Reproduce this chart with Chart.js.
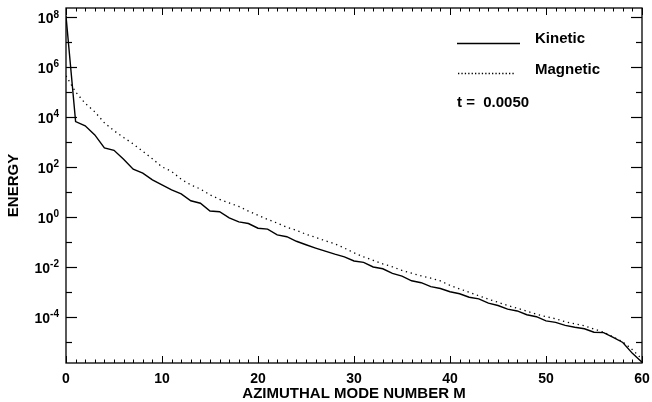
<!DOCTYPE html>
<html>
<head>
<meta charset="utf-8">
<script src="https://cdn.jsdelivr.net/npm/chart.js@4/dist/chart.umd.min.js"></script>
<style>
  html, body { margin: 0; padding: 0; background: #fff; }
  #wrap { width: 652px; height: 402px; }
</style>
</head>
<body>
<div id="wrap"><canvas id="spectrum"></canvas></div>
<script>
// azimuthal mode number M
const modes = [0, 1, 2, 3, 4, 5, 6, 7, 8, 9, 10, 11, 12, 13, 14, 15, 16, 17, 18, 19, 20,
    21, 22, 23, 24, 25, 26, 27, 28, 29, 30, 31, 32, 33, 34, 35, 36, 37, 38, 39, 40,
    41, 42, 43, 44, 45, 46, 47, 48, 49, 50, 51, 52, 53, 54, 55, 56, 57, 58, 59, 60];

// energy per mode
const kinetic = [1.1e8, 6.5e3, 4.4e3, 1.9e3, 5.8e2, 4.6e2, 2.0e2, 8.1e1, 5.6e1, 3.0e1, 1.9e1,
    1.2e1, 8.3, 4.4, 3.5, 1.7, 1.6, 9.1e-1, 6.3e-1, 5.4e-1, 3.5e-1,
    3.2e-1, 1.9e-1, 1.6e-1, 1.05e-1, 7.6e-2, 5.6e-2, 4.2e-2, 3.2e-2, 2.5e-2, 1.7e-2,
    1.5e-2, 9.8e-3, 8.3e-3, 5.4e-3, 4.2e-3, 2.75e-3, 2.3e-3, 1.6e-3, 1.35e-3, 1.0e-3,
    8.3e-4, 6.0e-4, 5.2e-4, 3.5e-4, 2.8e-4, 2.0e-4, 1.7e-4, 1.2e-4, 1.0e-4, 6.8e-5,
    5.9e-5, 4.5e-5, 3.8e-5, 3.3e-5, 2.4e-5, 2.3e-5, 1.5e-5, 9.3e-6, 3.4e-6, 1.5e-6];

const magnetic = [4.4e5, 1.0e5, 3.5e4, 1.6e4, 5.8e3, 2.8e3, 1.5e3, 8.3e2, 4.2e2, 2.1e2, 1.0e2,
    6.6e1, 3.2e1, 1.9e1, 1.3e1, 7.6, 5.0, 3.6, 2.6, 1.7, 1.15,
    7.9e-1, 5.6e-1, 3.8e-1, 2.9e-1, 2.0e-1, 1.5e-1, 1.1e-1, 8.3e-2, 5.6e-2, 3.6e-2,
    2.5e-2, 1.8e-2, 1.3e-2, 1.0e-2, 7.1e-3, 5.5e-3, 4.3e-3, 3.5e-3, 2.7e-3, 1.8e-3,
    1.3e-3, 9.5e-4, 6.9e-4, 5.0e-4, 3.8e-4, 2.8e-4, 2.2e-4, 1.66e-4, 1.26e-4, 1.0e-4,
    8.3e-5, 6.3e-5, 5.2e-5, 4.3e-5, 3.2e-5, 2.4e-5, 1.55e-5, 9.8e-6, 4.8e-6, 2.0e-6];

// tick labels
const xTickValues = [0, 10, 20, 30, 40, 50, 60];
const yTickExponents = [8, 6, 4, 2, 0, -2, -4];
const yMinorExponents = [7, 5, 3, 1, -1, -3, -5];

const FONT = 'bold {s}px "Liberation Sans", Arial, sans-serif';
const font = s => FONT.replace('{s}', s);

// axes, ticks, labels and the little legend, drawn the old IDL way
const idlFrame = {
    id: 'idlFrame',
    afterDraw(chart) {
        const ctx = chart.ctx;
        const a = chart.chartArea;
        const xs = chart.scales.x;
        const ys = chart.scales.y;

        ctx.save();
        ctx.strokeStyle = '#000';
        ctx.fillStyle = '#000';

        function seg(x1, y1, x2, y2) {
            ctx.beginPath();
            ctx.moveTo(x1, y1);
            ctx.lineTo(x2, y2);
            ctx.stroke();
        }

        ctx.lineWidth = 1.3;
        ctx.strokeRect(a.left, a.top, a.right - a.left, a.bottom - a.top);

        // x ticks, every mode, bigger every 10
        ctx.lineWidth = 1;
        for (let m = 0; m <= 60; m++) {
            const px = Math.round(xs.getPixelForValue(m)) + 0.5;
            const len = m % 10 === 0 ? 7 : 3.5;
            seg(px, a.bottom, px, a.bottom - len);
            seg(px, a.top, px, a.top + len);
        }

        // y ticks at decades
        ctx.lineWidth = 1.2;
        yTickExponents.forEach(e => {
            const py = Math.round(ys.getPixelForValue(Math.pow(10, e))) + 0.5;
            seg(a.left, py, a.left + 11, py);
            seg(a.right, py, a.right - 11, py);
        });
        yMinorExponents.forEach(e => {
            const py = Math.round(ys.getPixelForValue(Math.pow(10, e))) + 0.5;
            seg(a.left, py, a.left + 6, py);
            seg(a.right, py, a.right - 6, py);
        });

        // x tick labels
        ctx.font = font(14);
        ctx.textAlign = 'center';
        ctx.textBaseline = 'middle';
        xTickValues.forEach(v => {
            ctx.fillText(String(v), xs.getPixelForValue(v), a.bottom + 16);
        });

        // y tick labels: 10 with a raised exponent
        ctx.textAlign = 'left';
        ctx.textBaseline = 'alphabetic';
        yTickExponents.forEach(e => {
            const py = ys.getPixelForValue(Math.pow(10, e));
            const sup = String(e);
            ctx.font = font(10);
            const wSup = ctx.measureText(sup).width;
            ctx.font = font(14);
            const wBase = ctx.measureText('10').width;
            const right = a.left - 7;
            ctx.fillText('10', right - wSup - wBase, py + 6);
            ctx.font = font(10);
            ctx.fillText(sup, right - wSup, py + 0.5);
        });

        // axis titles
        ctx.font = font(15);
        ctx.textAlign = 'center';
        ctx.textBaseline = 'middle';
        ctx.fillText('AZIMUTHAL MODE NUMBER M', (a.left + a.right) / 2, a.bottom + 31);
        ctx.save();
        ctx.translate(14, (a.top + a.bottom) / 2);
        ctx.rotate(-Math.PI / 2);
        ctx.fillText('ENERGY', 0, 0);
        ctx.restore();

        // legend
        ctx.lineWidth = 1.3;
        seg(457, 43.5, 520, 43.5);
        ctx.setLineDash([1.3, 2.1]);
        seg(458, 73.5, 515, 73.5);
        ctx.setLineDash([]);
        ctx.textAlign = 'left';
        ctx.textBaseline = 'alphabetic';
        ctx.font = font(15);
        ctx.fillText('Kinetic', 535, 43);
        ctx.fillText('Magnetic', 535, 74);
        ctx.fillText('t =  0.0050', 457, 107);

        ctx.restore();
    }
};

const ctx = document.getElementById('spectrum').getContext('2d');

const spectrum = new Chart(ctx, {
    type: 'line',
    data: {
        datasets: [{
            label: 'Kinetic',
            data: modes.map((m, i) => ({x: m, y: kinetic[i]})),
            borderColor: '#000',
            borderWidth: 1.4,
            pointRadius: 0,
            tension: 0,
            fill: false
        }, {
            label: 'Magnetic',
            data: modes.map((m, i) => ({x: m, y: magnetic[i]})),
            borderColor: '#000',
            borderWidth: 1.3,
            borderDash: [1.3, 3.7],
            pointRadius: 0,
            tension: 0,
            fill: false
        }]
    },
    options: {
        responsive: true,
        maintainAspectRatio: false,
        animation: false,
        devicePixelRatio: 1,
        layout: {
            padding: {left: 66, right: 10, top: 8, bottom: 39}
        },
        scales: {
            x: {
                type: 'linear',
                min: 0,
                max: 60,
                display: false
            },
            y: {
                type: 'logarithmic',
                min: 1.4e-6,
                max: 2.3e8,
                display: false
            }
        },
        plugins: {
            legend: {display: false},
            tooltip: {enabled: false}
        }
    },
    plugins: [idlFrame]
});
</script>
</body>
</html>
